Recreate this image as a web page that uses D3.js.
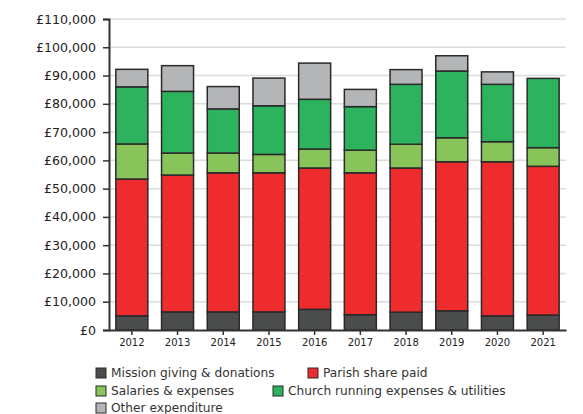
<!DOCTYPE html>
<html><head><meta charset="utf-8">
<script src="https://cdn.jsdelivr.net/npm/d3@7"></script>
<style>body{margin:0;background:#fff}svg{display:block}</style>
</head><body>
<svg id="c" width="583" height="414"></svg>
<script>
const years = ["2012","2013","2014","2015","2016","2017","2018","2019","2020","2021"];
const mission  = [5000, 6400, 6400, 6400, 7300, 5400, 6300, 6800, 5000, 5300];
const parish   = [48400,48400,49200,49200,50000,50200,51000,52700,54500,52600];
const salaries = [12400, 7800, 7000, 6500, 6700, 8000, 8400, 8500, 7100, 6600];
const church   = [20200,21800,15600,17200,17600,15400,21200,23600,20300,24500];
const other    = [6200, 9100, 7900, 9800,12800, 6100, 5200, 5400, 4400, 0];
const seriesNames = ["Mission giving & donations","Parish share paid","Salaries & expenses","Church running expenses & utilities","Other expenditure"];
const colors = ["#4b4d4d","#ee2b2d","#88c45a","#2db35d","#b3b5b7"];
const yTicks = [0,10000,20000,30000,40000,50000,60000,70000,80000,90000,100000,110000];

const keys = ["m","p","s","c","o"];
const table = years.map((y,i)=>({year:y,m:mission[i],p:parish[i],s:salaries[i],c:church[i],o:other[i]}));
const stacked = d3.stack().keys(keys)(table);

const svg = d3.select("#c");
const x = d3.scaleBand().domain(years).range([109,566]).paddingInner(0.3).paddingOuter(0.15);
const y = d3.scaleLinear().domain([0,110000]).range([330,19]);

// gridlines
svg.append("g").selectAll("line").data(yTicks.filter(d=>d>0)).join("line")
  .attr("x1",109).attr("x2",566).attr("y1",d=>y(d)).attr("y2",d=>y(d))
  .attr("stroke","#dcdcdc").attr("stroke-width",1.5);

// bars
svg.append("g").selectAll("g").data(stacked).join("g")
  .attr("fill",(d,i)=>colors[i])
  .selectAll("rect").data(d=>d.filter(v=>v[1]-v[0]>0)).join("rect")
  .attr("x",d=>x(d.data.year)).attr("width",x.bandwidth())
  .attr("y",d=>y(d[1])).attr("height",d=>y(d[0])-y(d[1]))
  .attr("stroke","#2a2a2a").attr("stroke-width",1.5);

// y axis
const yAxis = svg.append("g").attr("transform","translate(109,0)")
  .call(d3.axisLeft(y).tickValues(yTicks).tickSize(6).tickPadding(7)
    .tickFormat(d=>"£"+d3.format(",")(d)));
yAxis.select(".domain").attr("stroke","#333").attr("stroke-width",2);
yAxis.selectAll(".tick line").attr("stroke","#333").attr("stroke-width",1.5);
yAxis.selectAll("text").attr("font-family","DejaVu Sans").attr("font-size",12.6).attr("fill","#222");

// x axis
const xAxis = svg.append("g").attr("transform","translate(0,330)")
  .call(d3.axisBottom(x).tickSize(5).tickPadding(4).tickSizeOuter(0));
xAxis.select(".domain").attr("stroke","#333").attr("stroke-width",2);
xAxis.selectAll(".tick line").attr("stroke","#333").attr("stroke-width",1.5);
xAxis.selectAll("text").attr("font-family","DejaVu Sans").attr("font-size",10).attr("fill","#222");

// legend
const legendPos = [[96,373],[308,373],[96,391],[273,391],[96,408]];
const lg = svg.append("g").selectAll("g").data(seriesNames).join("g")
  .attr("transform",(d,i)=>`translate(${legendPos[i][0]},${legendPos[i][1]})`);
lg.append("rect").attr("x",0).attr("y",-5).attr("width",10).attr("height",10)
  .attr("fill",(d,i)=>colors[i]).attr("stroke","#2a2a2a").attr("stroke-width",1);
lg.append("text").attr("x",15).attr("y",0).attr("dy","0.35em")
  .attr("font-family","DejaVu Sans").attr("font-size",12.2).attr("fill","#333").text(d=>d);
</script>
</body></html>
